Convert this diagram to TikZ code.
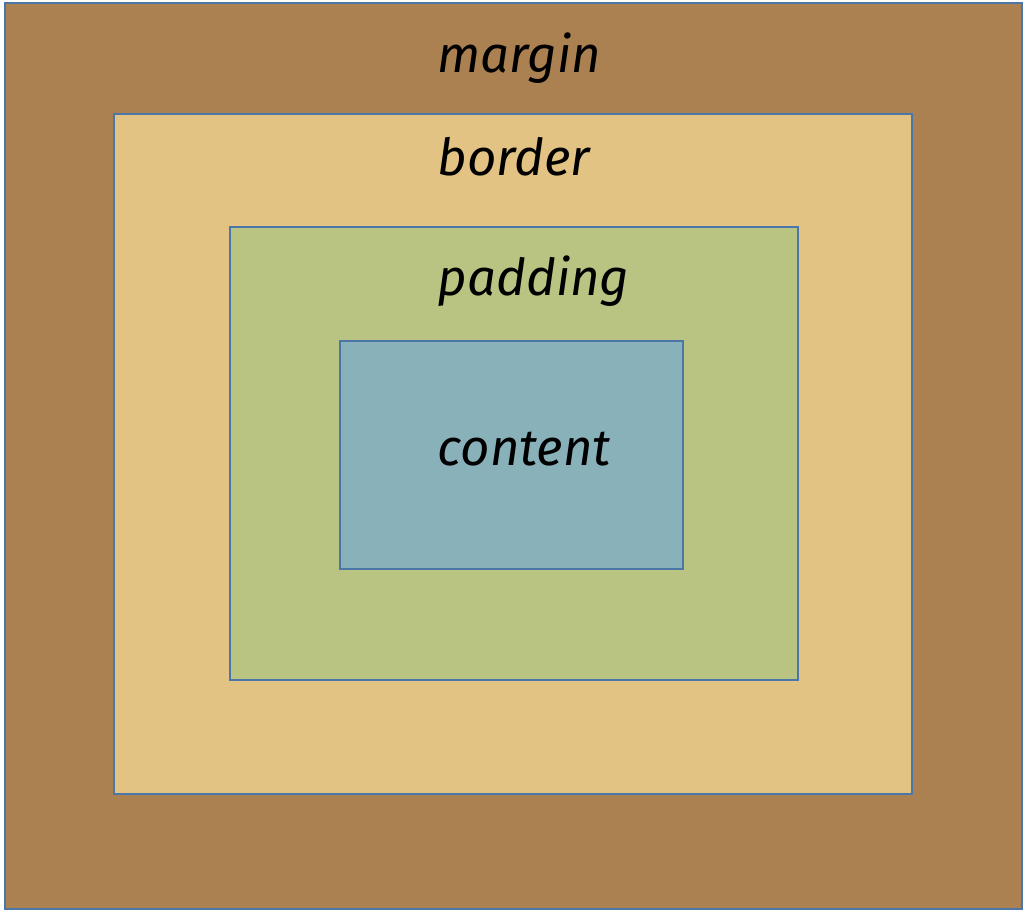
\documentclass[tikz,border=0pt]{standalone}
\usepackage{fontspec}
\setmainfont{Fira Sans}
\usepackage{tikz}

\definecolor{marginc}{HTML}{AC8152}
\definecolor{borderc}{HTML}{E2C384}
\definecolor{paddingc}{HTML}{B9C382}
\definecolor{contentc}{HTML}{88B1BA}
\definecolor{edgec}{HTML}{4A76A8}

\tikzset{
  layer/.style={draw=edgec, line width=0.2mm},
  boxlabel/.style={anchor=base west, inner sep=0pt, font=\fontsize{14.5}{17}\selectfont\itshape}
}

\begin{document}
\begin{tikzpicture}[x=0.1mm,y=-0.1mm]
\useasboundingbox (0,0) rectangle (1028,913);

%BOX MODEL
\filldraw[layer, fill=marginc] (5,3) rectangle (1022,909);
\filldraw[layer, fill=borderc] (114,114) rectangle (912,794);
\filldraw[layer, fill=paddingc] (230,227) rectangle (798,680);
\filldraw[layer, fill=contentc] (340,341) rectangle (683,569);

%labels
\node[boxlabel] (marginlabel) at (437,72) {margin};
\node[boxlabel] (borderlabel) at (437,175) {border};
\node[boxlabel] (paddinglabel) at (437,295) {padding};
\node[boxlabel] (contentlabel) at (437,465) {content};
\end{tikzpicture}
\end{document}
